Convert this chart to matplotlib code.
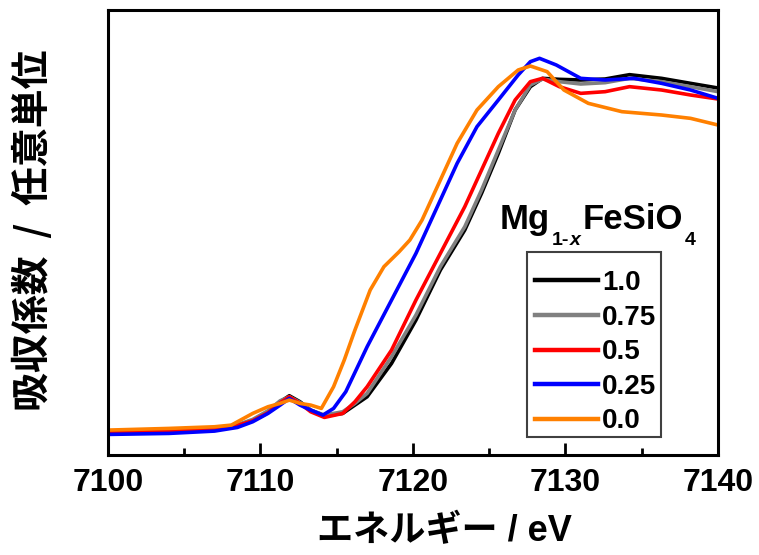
import matplotlib
matplotlib.use("Agg")
import matplotlib.pyplot as plt
from matplotlib.ticker import MultipleLocator
from matplotlib.patches import Rectangle

plt.rcParams['font.family'] = ['Liberation Sans', 'Noto Sans CJK JP', 'DejaVu Sans']
plt.rcParams['font.weight'] = 'bold'

# Fe K-edge XANES of Mg(1-x)FeSiO4 (arbitrary units)
e_10 = [7100, 7104, 7107, 7108.5, 7109.5, 7110.5, 7111.3, 7111.9, 7112.6, 7113.3, 7114.2,
        7115.4, 7116.2, 7117.0, 7118.6, 7120.2, 7121.8, 7123.4, 7124.5, 7125.6, 7126.7,
        7127.7, 7128.5, 7129.6, 7131.0, 7132.6, 7134.2, 7136.3, 7138.2, 7140]
mu_10 = [0.5, 0.7, 1.5, 2.5, 4.0, 6.5, 9.5, 11.3, 9.5, 7.0, 5.3,
         6.0, 8.5, 11.0, 21.0, 34.0, 49.0, 61.0, 72.0, 84.0, 97.0,
         104.0, 106.5, 106.2, 106.0, 106.3, 107.6, 106.5, 105.0, 103.6]

e_075 = e_10
mu_075 = [0.5, 0.8, 1.6, 2.6, 4.2, 6.8, 9.8, 11.0, 9.3, 7.0, 5.5,
          6.5, 9.0, 12.0, 23.0, 35.5, 50.0, 62.0, 73.0, 85.0, 97.0,
          104.5, 106.3, 105.5, 104.8, 105.2, 106.5, 105.5, 104.0, 102.5]

e_05 = e_10
mu_05 = [0.4, 0.6, 1.4, 2.4, 3.8, 6.2, 9.2, 11.0, 9.0, 6.5, 4.8,
         6.0, 9.5, 14.0, 25.0, 40.0, 54.0, 68.0, 79.0, 90.0, 100.0,
         105.5, 106.5, 104.0, 102.0, 102.5, 104.0, 103.0, 101.5, 100.3]

e_025 = [7100, 7104, 7107, 7108.5, 7109.5, 7110.5, 7111.3, 7111.9, 7112.6, 7113.3, 7114.1,
         7114.8, 7115.6, 7117.0, 7118.6, 7120.2, 7121.6, 7122.9, 7124.2, 7125.6, 7126.9,
         7127.7, 7128.3, 7129.4, 7131.0, 7132.6, 7134.5, 7136.3, 7138.2, 7140]
mu_025 = [-0.3, 0.0, 0.7, 1.8, 3.5, 6.0, 8.5, 10.5, 8.5, 7.0, 5.5,
          7.5, 12.5, 26.0, 40.0, 54.0, 68.0, 81.0, 92.0, 100.0, 107.5,
          111.5, 112.5, 110.5, 106.5, 106.0, 106.5, 105.0, 103.0, 100.5]

e_00 = [7100, 7104, 7107, 7108.1, 7109.5, 7110.5, 7111.3, 7111.9, 7112.6, 7113.3, 7114.0,
        7114.8, 7115.5, 7116.2, 7117.2, 7118.1, 7119.1, 7119.8, 7120.6, 7121.6, 7122.9,
        7124.2, 7125.6, 7126.9, 7127.7, 7128.8, 7129.9, 7131.5, 7133.7, 7136.3, 7138.2, 7140]
mu_00 = [1.0, 1.5, 2.0, 2.5, 6.0, 8.0, 9.0, 10.0, 9.0, 8.5, 7.5,
         14.0, 22.0, 31.0, 43.0, 50.0, 54.5, 58.0, 64.0, 74.0, 87.0,
         97.0, 104.0, 109.0, 110.2, 108.5, 103.0, 99.0, 96.5, 95.5, 94.5, 92.5]

labels = ["1.0", "0.75", "0.5", "0.25", "0.0"]
colors = ["#000000", "#808080", "#ff0000", "#0000ff", "#ff8000"]
series = [(e_10, mu_10), (e_075, mu_075), (e_05, mu_05), (e_025, mu_025), (e_00, mu_00)]

W, H = 759, 555
fig = plt.figure(figsize=(W / 100, H / 100), dpi=100)
ax = fig.add_axes([0.142, 0.180, 0.804, 0.802])

for (e, mu), lab, c in zip(series, labels, colors):
    ax.plot(e, mu, color=c, lw=2.6, label=lab)

ax.set_xlim(7100, 7140)
ax.set_ylim(-6.5, 127)
ax.xaxis.set_major_locator(MultipleLocator(10))
ax.xaxis.set_minor_locator(MultipleLocator(5))
ax.set_yticks([])
ax.tick_params(axis='x', which='major', direction='in', length=9, width=2,
               labelsize=23, pad=9)
ax.tick_params(axis='x', which='minor', direction='in', length=5, width=2)
for sp in ax.spines.values():
    sp.set_linewidth(2.2)

ax.set_xlabel("エネルギー / eV", fontsize=26, fontweight='bold', va='center')
ax.xaxis.set_label_coords(0.551, -0.171)
ax.set_ylabel("吸収係数  /  任意単位", fontsize=28, fontweight='bold', va='center',
              family=['Noto Sans CJK JP', 'DejaVu Sans'])
ax.yaxis.set_label_coords(-0.122, 0.506)

# Mg_{1-x}FeSiO_4 title, built piece by piece (pixel positions from the top-left)
renderer = fig.canvas.get_renderer()
pieces = [("Mg", 25, 'normal', 229), ("1-", 14, 'normal', 245), ("x", 14, 'italic', 245),
          ("FeSiO", 25, 'normal', 229), ("4", 14, 'normal', 245)]
x = 500
for txt, size, style, base in pieces:
    t = fig.text(x / W, 1 - base / H, txt, fontsize=size, fontstyle=style,
                 fontweight='bold', ha='left', va='baseline', family='Liberation Sans')
    bb = t.get_window_extent(renderer)
    x = bb.x1 + (0 if txt == "1-" else 2)

# legend frame and entries
fig.add_artist(Rectangle((527 / W, 1 - 437 / H), 134 / W, 185 / H, transform=fig.transFigure,
                         fill=False, edgecolor='#404040', lw=1.5))
leg = ax.legend(loc='upper left', bbox_to_anchor=(535 / W, 1 - 270 / H),
                bbox_transform=fig.transFigure, fontsize=20, frameon=False,
                handlelength=2.27, handletextpad=0.15, labelspacing=0.31,
                borderpad=0, borderaxespad=0)
for t in leg.get_texts():
    t.set_fontweight('bold')
for l in leg.get_lines():
    l.set_linewidth(3.2)

fig.savefig("out.png", dpi=100)
